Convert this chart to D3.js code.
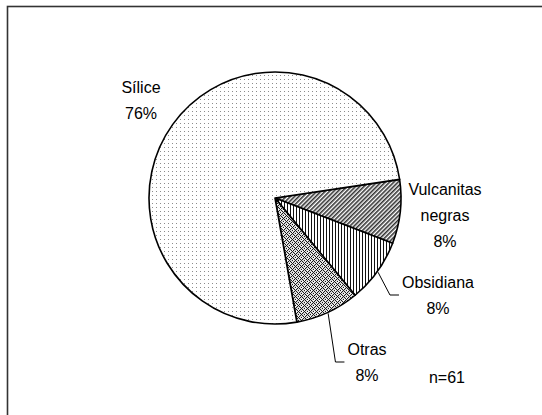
<!DOCTYPE html>
<html>
<head>
<meta charset="utf-8">
<script src="https://cdn.jsdelivr.net/npm/d3@7"></script>
<style>
  body { margin: 0; background: #fff; }
  text { font-family: "Liberation Sans", Arial, sans-serif; font-size: 16px; fill: #000; }
</style>
</head>
<body>
<div id="chart"></div>
<script>
// data (clockwise from the Vulcanitas edge)
var categories = ["Vulcanitas negras", "Obsidiana", "Otras", "Sílice"];
var counts = [5, 5, 5, 46];
var pctLabels = ["8%", "8%", "8%", "76%"];
var sampleSize = "n=61";

var width = 542, height = 415;
var cx = 275, cy = 198, radius = 126;

var svg = d3.select("#chart").append("svg")
  .attr("width", width)
  .attr("height", height);

// fill patterns, one per slice
var defs = svg.append("defs");

var pDots = defs.append("pattern").attr("id", "pSilice")
  .attr("patternUnits", "userSpaceOnUse").attr("width", 4).attr("height", 4);
pDots.append("rect").attr("width", 4).attr("height", 4).attr("fill", "#fff");
pDots.append("rect").attr("x", 1).attr("y", 1).attr("width", 1).attr("height", 1).attr("fill", "#8c8c8c");

var pDiag = defs.append("pattern").attr("id", "pVulc")
  .attr("patternUnits", "userSpaceOnUse").attr("width", 3).attr("height", 3)
  .attr("patternTransform", "rotate(45)");
pDiag.append("rect").attr("width", 3).attr("height", 3).attr("fill", "#fff");
pDiag.append("rect").attr("width", 1.6).attr("height", 3).attr("fill", "#333");

var pVert = defs.append("pattern").attr("id", "pObs")
  .attr("patternUnits", "userSpaceOnUse").attr("width", 3).attr("height", 3);
pVert.append("rect").attr("width", 3).attr("height", 3).attr("fill", "#fff");
pVert.append("rect").attr("width", 1).attr("height", 3).attr("fill", "#111");

var pSpeck = defs.append("pattern").attr("id", "pOtras")
  .attr("patternUnits", "userSpaceOnUse").attr("width", 6).attr("height", 6);
pSpeck.append("rect").attr("width", 6).attr("height", 6).attr("fill", "#d8d8d8");
[[0,0],[3,1],[1,3],[4,4],[2,5],[5,2],[0,4],[1,1],[4,0],[3,3],[5,5],[2,2]].forEach(function(p){
  pSpeck.append("rect").attr("x", p[0]).attr("y", p[1]).attr("width", 1).attr("height", 1).attr("fill", "#1a1a1a");
});
[[2,0],[5,4],[0,2],[3,5]].forEach(function(p){
  pSpeck.append("rect").attr("x", p[0]).attr("y", p[1]).attr("width", 1).attr("height", 1).attr("fill", "#fff");
});

var fills = ["url(#pVulc)", "url(#pObs)", "url(#pOtras)", "url(#pSilice)"];

// chart area frame (only top and left edges fall inside the window)
svg.append("rect")
  .attr("x", 7.5).attr("y", 6.5)
  .attr("width", 700).attr("height", 600)
  .attr("fill", "none")
  .attr("stroke", "#333")
  .attr("stroke-width", 1.6);

var startA = 81.5 * Math.PI / 180;
var pie = d3.pie().sort(null).value(function(d){ return d; })
  .startAngle(startA).endAngle(startA + 2 * Math.PI);
var arcs = pie(counts);

var arc = d3.arc().innerRadius(0).outerRadius(radius);

var g = svg.append("g").attr("transform", "translate(" + cx + "," + cy + ")");

g.selectAll("path.slice")
  .data(arcs)
  .enter()
  .append("path")
    .attr("class", "slice")
    .attr("d", arc)
    .attr("fill", function(d, i){ return fills[i]; })
    .attr("stroke", "#000")
    .attr("stroke-width", 1.6)
    .attr("stroke-linejoin", "round");

// label anchors: centre x / first baseline, relative to pie centre
var labelPos = [[170, -3], [163, 90], [92, 157], [-134, -105]];
var lineGap = 26;
var labelLines = [["Vulcanitas", "negras"], ["Obsidiana"], ["Otras"], ["Sílice"]];
var hasLeader = [false, true, true, false];

arcs.forEach(function(d, i){
  var lines = labelLines[i].concat([pctLabels[i]]);
  var t = g.append("text")
    .attr("text-anchor", "middle");
  lines.forEach(function(s, k){
    t.append("tspan")
      .attr("x", labelPos[i][0])
      .attr("y", labelPos[i][1] + k * lineGap)
      .text(s);
  });

  if (hasLeader[i]) {
    // leader from the slice edge to the left side of the label
    var mid = (d.startAngle + d.endAngle) / 2;
    var p0 = [Math.sin(mid) * (radius + 1), -Math.cos(mid) * (radius + 1)];
    var w = t.select("tspan").node().getComputedTextLength();
    var endX = labelPos[i][0] - w / 2 - 3;
    var endY = labelPos[i][1] + 7;
    g.append("path")
      .attr("d", d3.line()([p0, [endX - 9, endY], [endX, endY]]))
      .attr("fill", "none")
      .attr("stroke", "#000")
      .attr("stroke-width", 1);
  }
});

g.append("text")
  .attr("x", 172)
  .attr("y", 185)
  .attr("text-anchor", "middle")
  .text(sampleSize);
</script>
</body>
</html>
